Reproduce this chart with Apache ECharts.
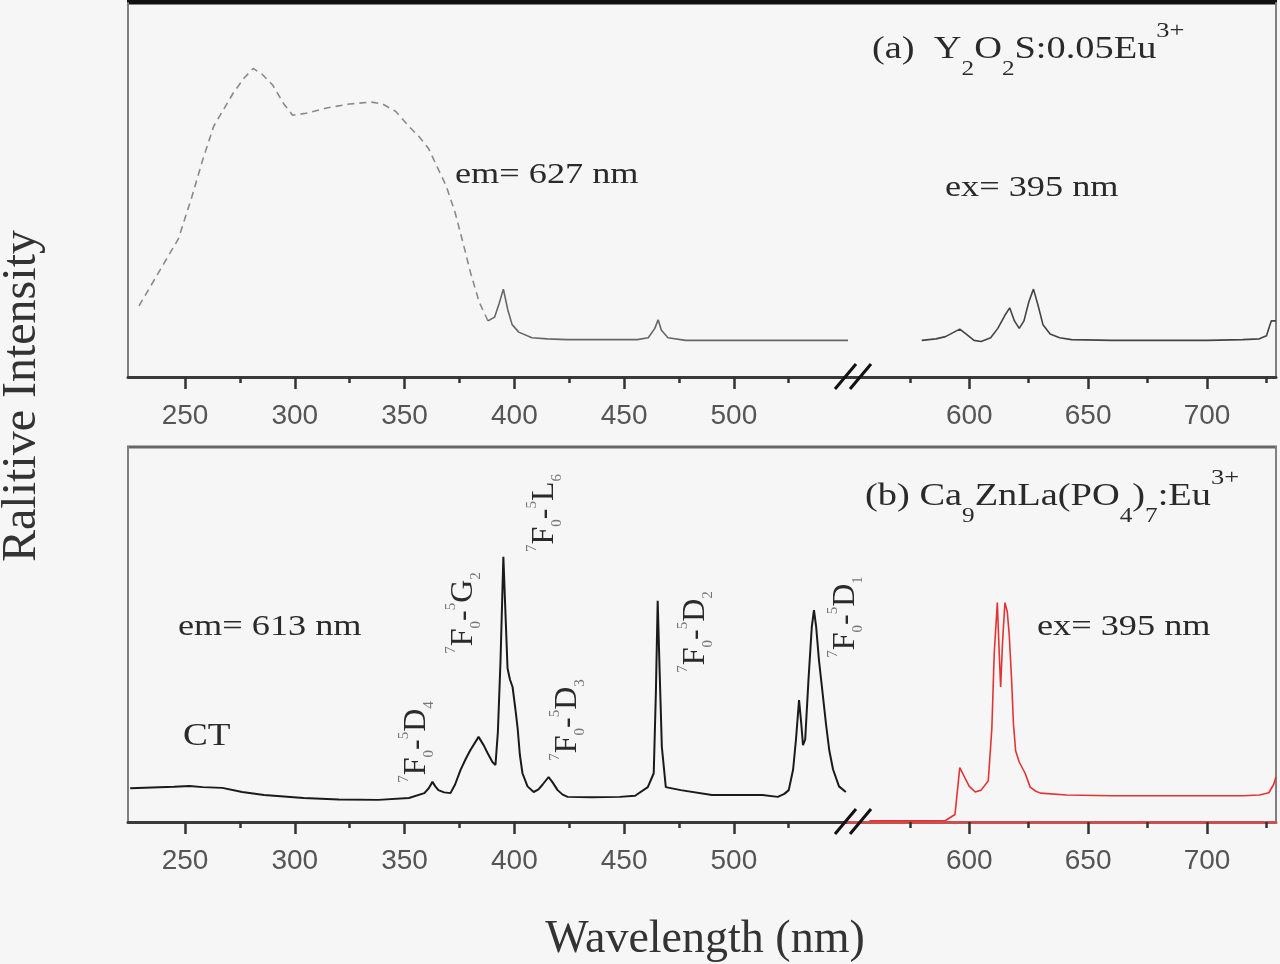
<!DOCTYPE html>
<html>
<head>
<meta charset="utf-8">
<title>Excitation and emission spectra</title>
<script src="https://cdn.jsdelivr.net/npm/echarts@6/dist/echarts.min.js"></script>
<style>
  html, body { margin: 0; padding: 0; background: #f6f6f6; }
  #chart { width: 1280px; height: 964px; }
</style>
</head>
<body>
<div id="chart"></div>
<script>
// axis ticks (nm), broken axis: left part and right part
const majorTicksLeft = [250, 300, 350, 400, 450, 500]
const minorTicksLeft = [275, 325, 375, 425, 475, 525]
const majorTicksRight = [600, 650, 700]
const minorTicksRight = [575, 625, 675, 725]

// (a) Y2O2S:0.05Eu3+ excitation, em = 627 nm  (broad CT band, dashed)
const exA_band = [[229, 19], [236, 26], [242, 32], [247, 37], [253, 48], [258, 58], [263, 67], [267, 71],
  [272, 76], [277, 80], [281, 82.5], [285, 81], [290, 78], [295, 73], [299, 70], [305, 70.5], [315, 72],
  [325, 73], [335, 73.5], [340, 73], [346, 71], [352, 67], [357, 64], [361, 61], [365, 56], [369, 51],
  [373, 44], [377, 35], [380, 28], [384, 20], [388, 15]]
// (a) excitation, f-f lines
const exA_lines = [[388, 15], [391, 16], [393, 19.5], [395, 23.5], [397, 18], [399, 14], [402, 12], [408, 10.5],
  [415, 10.2], [424, 10], [440, 10], [456, 10], [461, 10.5], [464, 13], [465.5, 15.3], [467, 12.5], [470, 10.5],
  [478, 9.8], [500, 9.8], [520, 9.8], [540, 9.8], [552, 9.8]]
// (a) emission, ex = 395 nm
const emA = [[580, 9.8], [586, 10.2], [590, 10.8], [593, 11.8], [596, 12.8], [599, 11.3], [602, 9.8], [605, 9.5],
  [609, 10.5], [612, 13], [615, 16.5], [617, 18.5], [619, 15], [621, 13], [623, 15], [625, 20], [627, 23.5],
  [629, 19], [631, 14], [634, 11.5], [638, 10.5], [643, 10], [660, 9.8], [680, 9.8], [700, 9.8], [715, 10],
  [722, 10.2], [725, 11], [727, 15], [729, 15]]

// (b) Ca9ZnLa(PO4)7:Eu3+ excitation, em = 613 nm
const exB = [[225, 9], [235, 9.2], [245, 9.4], [252, 9.6], [258, 9.3], [267, 9.1], [276, 8], [286, 7.2], [304, 6.4],
  [320, 6], [338, 5.9], [352, 6.4], [359, 7.7], [361, 9], [362.7, 10.7], [364, 9.5], [365.4, 8.5], [368, 7.9],
  [370.9, 7.7], [373, 10], [375.5, 13.9], [378, 17], [380, 19.2], [383.7, 22.7], [386, 20.5], [387.8, 18.4],
  [390, 16], [391.4, 15.2], [392.5, 24], [393.7, 43], [395, 70.7], [396, 55], [396.9, 41], [398, 38], [399.2, 36],
  [400.5, 30], [401.5, 25], [402.5, 18], [403.7, 13], [406, 9.5], [408.8, 8], [411, 8.7], [412.9, 10], [415.6, 12],
  [417.5, 10.5], [419.7, 8.5], [422, 7.3], [424.3, 6.7], [435, 6.6], [448, 6.7], [455, 7], [460.8, 9.3],
  [463.5, 13], [464.5, 35], [465.3, 59], [466.2, 40], [467.2, 20], [469, 9.3], [475.8, 8.5], [490, 7.2],
  [513, 7.2], [520, 6.7], [523, 7.5], [525, 8.5], [527, 14], [528.3, 22], [529.7, 32.5], [530.6, 27],
  [531.5, 20.5], [532.5, 22], [534, 38], [535.5, 52], [536.5, 56.5], [537.5, 52], [538.8, 43], [540.5, 34],
  [542, 26], [543.5, 19], [545.2, 14], [547.9, 9.5], [551, 8]]
// (b) emission, ex = 395 nm
const emB = [[558, 0.3], [575, 0.3], [590, 0.4], [594, 2], [596, 14.5], [598, 12], [600, 9.5], [602.5, 8],
  [605, 8.5], [608, 11], [609.5, 25], [610.5, 45], [611.8, 58.5], [612.6, 45], [613.2, 36], [614, 48],
  [615, 58.5], [616, 56], [616.8, 50], [617.8, 38], [618.6, 26], [619.5, 19], [621, 16], [623.5, 13],
  [625.6, 9.3], [628, 8.2], [630, 7.7], [641, 7.2], [660, 7], [680, 7], [700, 7], [715, 7], [722, 7.2],
  [726, 7.8], [728, 10], [729, 12]]

// 7F0 -> 5Dx / 5Gx / 5Lx transition labels (upper term letter + index)
const transitions = [['D', '4'], ['G', '2'], ['L', '6'], ['D', '3'], ['D', '2'], ['D', '1']]

// layout
const X0 = 128, XB = 848, X1 = 1276
const panels = [{ top: 3, bottom: 377 }, { top: 447, bottom: 822 }]
const leftRange = [224, 552]
const rightRange = [549, 729]
const SERIF = '"Liberation Serif", "DejaVu Serif", serif'
const SANS = '"Liberation Sans", Arial, sans-serif'

const chart = echarts.init(document.getElementById('chart'))

const grids = []
const xAxes = []
const yAxes = []
panels.forEach((p) => {
  grids.push({ left: X0, top: p.top, width: XB - X0, height: p.bottom - p.top, outerBoundsMode: 'none' })
  grids.push({ left: XB, top: p.top, width: X1 - XB, height: p.bottom - p.top, outerBoundsMode: 'none' })
})

const makeX = (gridIndex, range, majors, minors, lineColor) => {
  xAxes.push({
    type: 'value', gridIndex, min: range[0], max: range[1], position: 'bottom',
    axisLine: { show: true, onZero: false, lineStyle: { color: lineColor, width: 3 } },
    axisTick: { show: true, customValues: majors, length: 12, lineStyle: { color: '#333', width: 2.5 } },
    axisLabel: { customValues: majors, fontSize: 28, fontFamily: SANS, color: '#555', margin: 25 },
    splitLine: { show: false }
  })
  xAxes.push({
    type: 'value', gridIndex, min: range[0], max: range[1], position: 'bottom',
    axisLine: { show: false },
    axisTick: { show: true, customValues: minors, length: 6, lineStyle: { color: '#333', width: 2.5 } },
    axisLabel: { show: false },
    splitLine: { show: false }
  })
}
makeX(0, leftRange, majorTicksLeft, minorTicksLeft, '#3a3a3a')
makeX(1, rightRange, majorTicksRight, minorTicksRight, '#3a3a3a')
makeX(2, leftRange, majorTicksLeft, minorTicksLeft, '#3a3a3a')
makeX(3, rightRange, majorTicksRight, minorTicksRight, '#c85050')

for (let g = 0; g < 4; g++) {
  yAxes.push({
    type: 'value', gridIndex: g, min: 0, max: 100,
    position: g % 2 === 0 ? 'left' : 'right',
    axisLine: { show: true, onZero: false, lineStyle: { color: '#808080', width: 2 } },
    axisTick: { show: false },
    axisLabel: { show: false },
    splitLine: { show: false }
  })
}

const line = (data, g, color, width, type) => ({
  type: 'line', data, xAxisIndex: g * 2, yAxisIndex: g,
  showSymbol: false, symbol: 'none', smooth: false,
  lineStyle: { color, width, type: type || 'solid' }
})

// text helpers
const txt = (text, x, y, size, opts = {}) => ({
  type: 'text', x, y,
  rotation: opts.rotation || 0,
  scaleX: opts.scaleX || 1,
  style: {
    text, font: `${size}px ${SERIF}`, fill: opts.fill || '#2a2a2a',
    textAlign: opts.align || 'left', textVerticalAlign: 'middle',
    rich: opts.rich
  }
})
const richTitle = {
  n: { fontSize: 32, fontFamily: SERIF, fill: '#2a2a2a', lineHeight: 60 },
  sub: { fontSize: 21, fontFamily: SERIF, fill: '#2a2a2a', lineHeight: 34, verticalAlign: 'bottom' },
  sup: { fontSize: 22, fontFamily: SERIF, fill: '#2a2a2a', lineHeight: 24, verticalAlign: 'top' }
}
const richTrans = {
  n: { fontSize: 32, fontFamily: SERIF, fill: '#2a2a2a', lineHeight: 40 },
  b: { fontSize: 15, fontFamily: SERIF, fill: '#777', lineHeight: 16, verticalAlign: 'bottom' },
  s: { fontSize: 15, fontFamily: SERIF, fill: '#777', lineHeight: 16, verticalAlign: 'top' }
}
const transLabel = (t, x, y) =>
  txt(`{s|7}{n|F}{b|0}{n|-}{s|5}{n|${t[0]}}{b|${t[1]}}`, x, y, 32,
    { rotation: Math.PI / 2, align: 'center', rich: richTrans })

const breakMark = (ay) => [0, 15].map((dx) => ({
  type: 'line', z: 100,
  shape: { x1: XB - 13 + dx, y1: ay + 12, x2: XB + 8 + dx, y2: ay - 13 },
  style: { stroke: '#111', lineWidth: 3 }
}))

const graphic = [
  // panel top borders
  { type: 'line', shape: { x1: X0 - 1, y1: 2, x2: X1 + 1, y2: 2 }, style: { stroke: '#111', lineWidth: 5 } },
  { type: 'line', shape: { x1: X0 - 1, y1: 447, x2: X1 + 1, y2: 447 }, style: { stroke: '#666', lineWidth: 3 } },
  ...breakMark(panels[0].bottom),
  ...breakMark(panels[1].bottom),
  txt('{n|(a)  Y}{sub|2}{n|O}{sub|2}{n|S:0.05Eu}{sup|3+}', 872, 50, 32, { scaleX: 1.2, rich: richTitle }),
  txt('{n|(b) Ca}{sub|9}{n|ZnLa(PO}{sub|4}{n|)}{sub|7}{n|:Eu}{sup|3+}', 865, 497, 32, { scaleX: 1.2, rich: richTitle }),
  txt('em= 627 nm', 455, 175, 29, { scaleX: 1.25 }),
  txt('ex= 395 nm', 945, 188, 29, { scaleX: 1.25 }),
  txt('em= 613 nm', 178, 627, 29, { scaleX: 1.25 }),
  txt('ex= 395 nm', 1037, 627, 29, { scaleX: 1.25 }),
  txt('CT', 183, 737, 31, { scaleX: 1.2 }),
  transLabel(transitions[0], 417, 742),
  transLabel(transitions[1], 464, 613),
  transLabel(transitions[2], 545, 513),
  transLabel(transitions[3], 568, 720),
  transLabel(transitions[4], 696, 632),
  transLabel(transitions[5], 846, 617),
  // axis titles
  txt('Ralitive Intensity', 22, 396, 48, { rotation: Math.PI / 2, align: 'center', fill: '#333' }),
  txt('Wavelength (nm)', 705, 940, 46, { align: 'center', fill: '#333' })
]

const option = {
  animation: false,
  backgroundColor: '#f6f6f6',
  grid: grids,
  xAxis: xAxes,
  yAxis: yAxes,
  series: [
    line(exA_band, 0, '#8a8a8a', 1.6, [7, 5]),
    line(exA_lines, 0, '#666', 1.6),
    line(emA, 1, '#444', 1.6),
    line(exB, 2, '#1a1a1a', 2),
    line(emB, 3, '#e53333', 1.6)
  ],
  graphic
}
chart.setOption(option)
</script>
</body>
</html>
